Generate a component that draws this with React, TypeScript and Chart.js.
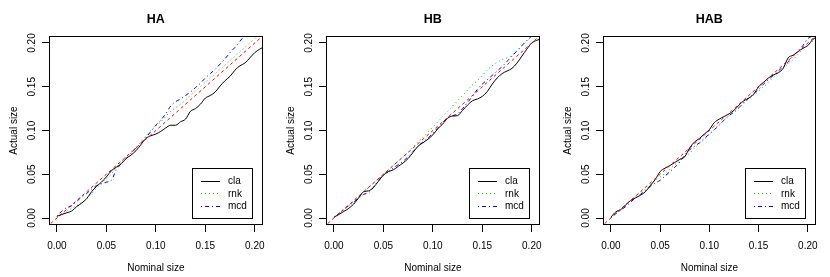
import React, { useEffect, useRef } from 'react';
import { Chart, registerables } from 'chart.js';

Chart.register(...registerables);

// ---------- DATA ----------
const nominal = [
  0, 0.005, 0.01, 0.015, 0.02, 0.025, 0.03, 0.035, 0.04, 0.045, 0.05, 0.055, 0.06, 0.065, 0.07,
  0.075, 0.08, 0.085, 0.09, 0.095, 0.1, 0.105, 0.11, 0.115, 0.12, 0.125, 0.13, 0.135, 0.14,
  0.145, 0.15, 0.155, 0.16, 0.165, 0.17, 0.175, 0.18, 0.185, 0.19, 0.195, 0.2, 0.205, 0.21,
];
const referenceLine = [-0.02, 0.22];

const haCla = [
  0.002, 0.004, 0.006, 0.008, 0.013, 0.017, 0.022, 0.03, 0.036, 0.041, 0.047, 0.054, 0.058, 0.062,
  0.068, 0.072, 0.077, 0.084, 0.091, 0.094, 0.096, 0.099, 0.103, 0.106, 0.106, 0.11, 0.113, 0.122,
  0.125, 0.13, 0.137, 0.14, 0.144, 0.151, 0.157, 0.162, 0.169, 0.174, 0.177, 0.183, 0.189, 0.193, 0.196,
];
const haRnk = [
  0.0, 0.004, 0.008, 0.011, 0.014, 0.018, 0.022, 0.028, 0.034, 0.04, 0.045, 0.05, 0.058, 0.064,
  0.07, 0.076, 0.081, 0.087, 0.094, 0.1, 0.105, 0.11, 0.116, 0.122, 0.126, 0.13, 0.135, 0.14,
  0.145, 0.15, 0.155, 0.16, 0.165, 0.17, 0.175, 0.18, 0.185, 0.19, 0.195, 0.2, 0.205, 0.21, 0.215,
];
const haMcd = [
  0.002, 0.008, 0.012, 0.014, 0.019, 0.024, 0.028, 0.033, 0.037, 0.039, 0.041, 0.043, 0.055, 0.062,
  0.068, 0.074, 0.08, 0.086, 0.092, 0.099, 0.106, 0.112, 0.119, 0.128, 0.133, 0.136, 0.14, 0.144,
  0.149, 0.154, 0.16, 0.165, 0.17, 0.176, 0.182, 0.189, 0.195, 0.202, 0.209, 0.215, 0.221, 0.227, 0.233,
];

const hbCla = [
  0.001, 0.004, 0.0075, 0.011, 0.016, 0.023, 0.03, 0.031, 0.035, 0.042, 0.049, 0.053, 0.055, 0.059,
  0.063, 0.068, 0.075, 0.082, 0.086, 0.09, 0.095, 0.102, 0.1075, 0.114, 0.1165, 0.117, 0.123, 0.129,
  0.134, 0.136, 0.139, 0.1445, 0.153, 0.16, 0.165, 0.168, 0.171, 0.177, 0.185, 0.193, 0.2, 0.203, 0.205,
];
const hbRnk = [
  0.0, 0.004, 0.009, 0.014, 0.019, 0.025, 0.029, 0.035, 0.04, 0.045, 0.05, 0.055, 0.06, 0.065,
  0.07, 0.075, 0.081, 0.087, 0.092, 0.098, 0.104, 0.11, 0.116, 0.122, 0.128, 0.134, 0.14, 0.146,
  0.152, 0.157, 0.163, 0.169, 0.174, 0.178, 0.181, 0.183, 0.186, 0.191, 0.196, 0.202, 0.208, 0.213, 0.218,
];
const hbMcd = [
  0.0, 0.005, 0.01, 0.014, 0.018, 0.023, 0.027, 0.029, 0.035, 0.043, 0.049, 0.053, 0.057, 0.061,
  0.065, 0.07, 0.076, 0.082, 0.087, 0.091, 0.097, 0.103, 0.109, 0.115, 0.117, 0.119, 0.125, 0.132,
  0.139, 0.147, 0.153, 0.158, 0.163, 0.168, 0.173, 0.179, 0.185, 0.191, 0.197, 0.203, 0.208, 0.213, 0.218,
];

const habCla = [
  0.001, 0.007, 0.0095, 0.015, 0.02, 0.023, 0.026, 0.03, 0.037, 0.044, 0.053, 0.057, 0.06, 0.0635,
  0.067, 0.07, 0.08, 0.087, 0.091, 0.096, 0.101, 0.109, 0.113, 0.116, 0.119, 0.123, 0.129, 0.134,
  0.137, 0.1415, 0.15, 0.155, 0.16, 0.1635, 0.166, 0.171, 0.183, 0.186, 0.19, 0.194, 0.197, 0.204, 0.208,
];
const habRnk = [
  0.0, 0.006, 0.011, 0.015, 0.02, 0.025, 0.029, 0.033, 0.038, 0.043, 0.047, 0.051, 0.056, 0.061,
  0.065, 0.07, 0.074, 0.08, 0.085, 0.09, 0.095, 0.101, 0.107, 0.112, 0.117, 0.121, 0.126, 0.131,
  0.136, 0.14, 0.145, 0.15, 0.155, 0.161, 0.166, 0.171, 0.176, 0.181, 0.187, 0.193, 0.198, 0.202, 0.206,
];
const habMcd = [
  0.0, 0.005, 0.009, 0.013, 0.018, 0.023, 0.027, 0.031, 0.036, 0.04, 0.043, 0.048, 0.053, 0.058,
  0.064, 0.072, 0.078, 0.082, 0.086, 0.091, 0.096, 0.101, 0.106, 0.112, 0.117, 0.121, 0.126, 0.132,
  0.137, 0.142, 0.147, 0.153, 0.158, 0.163, 0.168, 0.173, 0.178, 0.185, 0.191, 0.197, 0.205, 0.208, 0.211,
];

const panelTitles = ['HA', 'HB', 'HAB'];
const seriesNames = ['cla', 'rnk', 'mcd'];
const xAxisTitle = 'Nominal size';
const yAxisTitle = 'Actual size';

// ---------- STYLE ----------
const FONT = '"Liberation Sans", Arial, Helvetica, sans-serif';
const seriesStyles = [
  { color: '#000000', dash: [] as number[] },
  { color: '#00CD00', dash: [1, 3] },
  { color: '#0000FF', dash: [1, 3, 4, 3] },
];

const boxPlugin = {
  id: 'rbox',
  afterDatasetsDraw(chart: any) {
    const { ctx, chartArea } = chart;
    ctx.save();
    ctx.strokeStyle = '#000';
    ctx.lineWidth = 1;
    ctx.setLineDash([]);
    const l = Math.round(chartArea.left) + 0.5;
    const t = Math.round(chartArea.top) + 0.5;
    const r = Math.round(chartArea.right) - 0.5;
    const b = Math.round(chartArea.bottom) - 0.5;
    ctx.strokeRect(l, t, r - l, b - t);
    ctx.restore();
  },
};

const legendPlugin = {
  id: 'rlegend',
  afterDatasetsDraw(chart: any) {
    const { ctx, chartArea } = chart;
    const w = 60;
    const h = 50;
    const right = Math.round(chartArea.right - 10.5);
    const bottom = Math.round(chartArea.bottom - 7);
    const left = right - w;
    const top = bottom - h;
    ctx.save();
    ctx.fillStyle = '#fff';
    ctx.fillRect(left, top, w, h);
    ctx.strokeStyle = '#000';
    ctx.lineWidth = 1;
    ctx.setLineDash([]);
    ctx.strokeRect(left + 0.5, top + 0.5, w, h);
    const items = chart.data.datasets.filter((d: any) => seriesNames.includes(d.label));
    items.forEach((d: any, i: number) => {
      const y = top + 13 + i * 12.3;
      ctx.strokeStyle = d.borderColor;
      ctx.setLineDash(d.borderDash || []);
      ctx.beginPath();
      ctx.moveTo(left + 9, Math.round(y) + 0.5);
      ctx.lineTo(left + 28, Math.round(y) + 0.5);
      ctx.stroke();
      ctx.setLineDash([]);
      ctx.fillStyle = '#000';
      ctx.font = `10px ${FONT}`;
      ctx.textAlign = 'left';
      ctx.textBaseline = 'middle';
      ctx.fillText(d.label, left + 36, y + 0.5);
    });
    ctx.restore();
  },
};

function Panel(props: { title: string; series: number[][]; left: number; width: number }) {
  const ref = useRef<HTMLCanvasElement>(null);
  useEffect(() => {
    const toPts = (ys: number[]) => nominal.map((x, i) => ({ x, y: ys[i] }));
    const tickFont = { family: FONT, size: 10 };
    const datasets: any[] = [
      {
        label: 'ref',
        data: referenceLine.map((v) => ({ x: v, y: v })),
        borderColor: '#FF0000',
        borderDash: [3, 3],
        borderWidth: 1,
        pointRadius: 0,
        tension: 0,
      },
      ...props.series.map((ys, i) => ({
        label: seriesNames[i],
        data: toPts(ys),
        borderColor: seriesStyles[i].color,
        borderDash: seriesStyles[i].dash,
        borderWidth: 1,
        pointRadius: 0,
        cubicInterpolationMode: 'monotone',
      })),
    ];
    const axisCommon = {
      type: 'linear',
      min: -0.008,
      max: 0.208,
      border: { display: false },
      grid: { drawOnChartArea: false, drawTicks: true, tickLength: 7, color: '#000', lineWidth: 1 },
    };
    const chart = new Chart(ref.current as HTMLCanvasElement, {
      type: 'line',
      data: { datasets },
      options: {
        animation: false,
        responsive: false,
        maintainAspectRatio: false,
        events: [],
        layout: { padding: { left: 0, right: 14.3, top: 0, bottom: 0 } },
        plugins: {
          legend: { display: false },
          tooltip: { enabled: false },
          title: {
            display: true,
            text: props.title,
            fullSize: false,
            color: '#000',
            font: { family: FONT, size: 12.5, weight: 'bold', lineHeight: 1.2 },
            padding: { top: 12, bottom: 9 },
          },
        },
        scales: {
          x: {
            ...axisCommon,
            afterFit: (s: any) => {
              s.height = 52;
            },
            ticks: {
              stepSize: 0.05,
              includeBounds: false,
              autoSkip: false,
              maxRotation: 0,
              minRotation: 0,
              padding: 8,
              color: '#000',
              font: tickFont,
              callback: (v: any) => Number(v).toFixed(2),
            },
            title: {
              display: true,
              text: xAxisTitle,
              color: '#000',
              font: { family: FONT, size: 10, lineHeight: 1.2 },
              padding: { top: 0, bottom: 2.5 },
            },
          },
          y: {
            ...axisCommon,
            afterFit: (s: any) => {
              s.width = 49;
            },
            ticks: {
              stepSize: 0.05,
              includeBounds: false,
              autoSkip: false,
              minRotation: 90,
              maxRotation: 90,
              padding: 10,
              labelOffset: -9.7,
              color: '#000',
              font: tickFont,
              callback: (v: any) => Number(v).toFixed(2),
            },
            title: {
              display: true,
              text: yAxisTitle,
              color: '#000',
              font: { family: FONT, size: 10, lineHeight: 1.2 },
              padding: { top: 7.8, bottom: 0 },
            },
          },
        },
      } as any,
      plugins: [boxPlugin, legendPlugin],
    });
    return () => chart.destroy();
  }, []);
  return (
    <canvas
      ref={ref}
      width={props.width}
      height={277}
      style={{ position: 'absolute', left: props.left, top: 0, width: props.width, height: 277 }}
    />
  );
}

export default function App() {
  const seriesByPanel = [
    [haCla, haRnk, haMcd],
    [hbCla, hbRnk, hbMcd],
    [habCla, habRnk, habMcd],
  ];
  const lefts = [0, 277, 554];
  const widths = [277, 277, 276];
  return (
    <div style={{ position: 'fixed', left: 0, top: 0, width: 830, height: 277, background: '#fff', overflow: 'hidden' }}>
      {panelTitles.map((t, i) => (
        <Panel key={t} title={t} series={seriesByPanel[i]} left={lefts[i]} width={widths[i]} />
      ))}
    </div>
  );
}
